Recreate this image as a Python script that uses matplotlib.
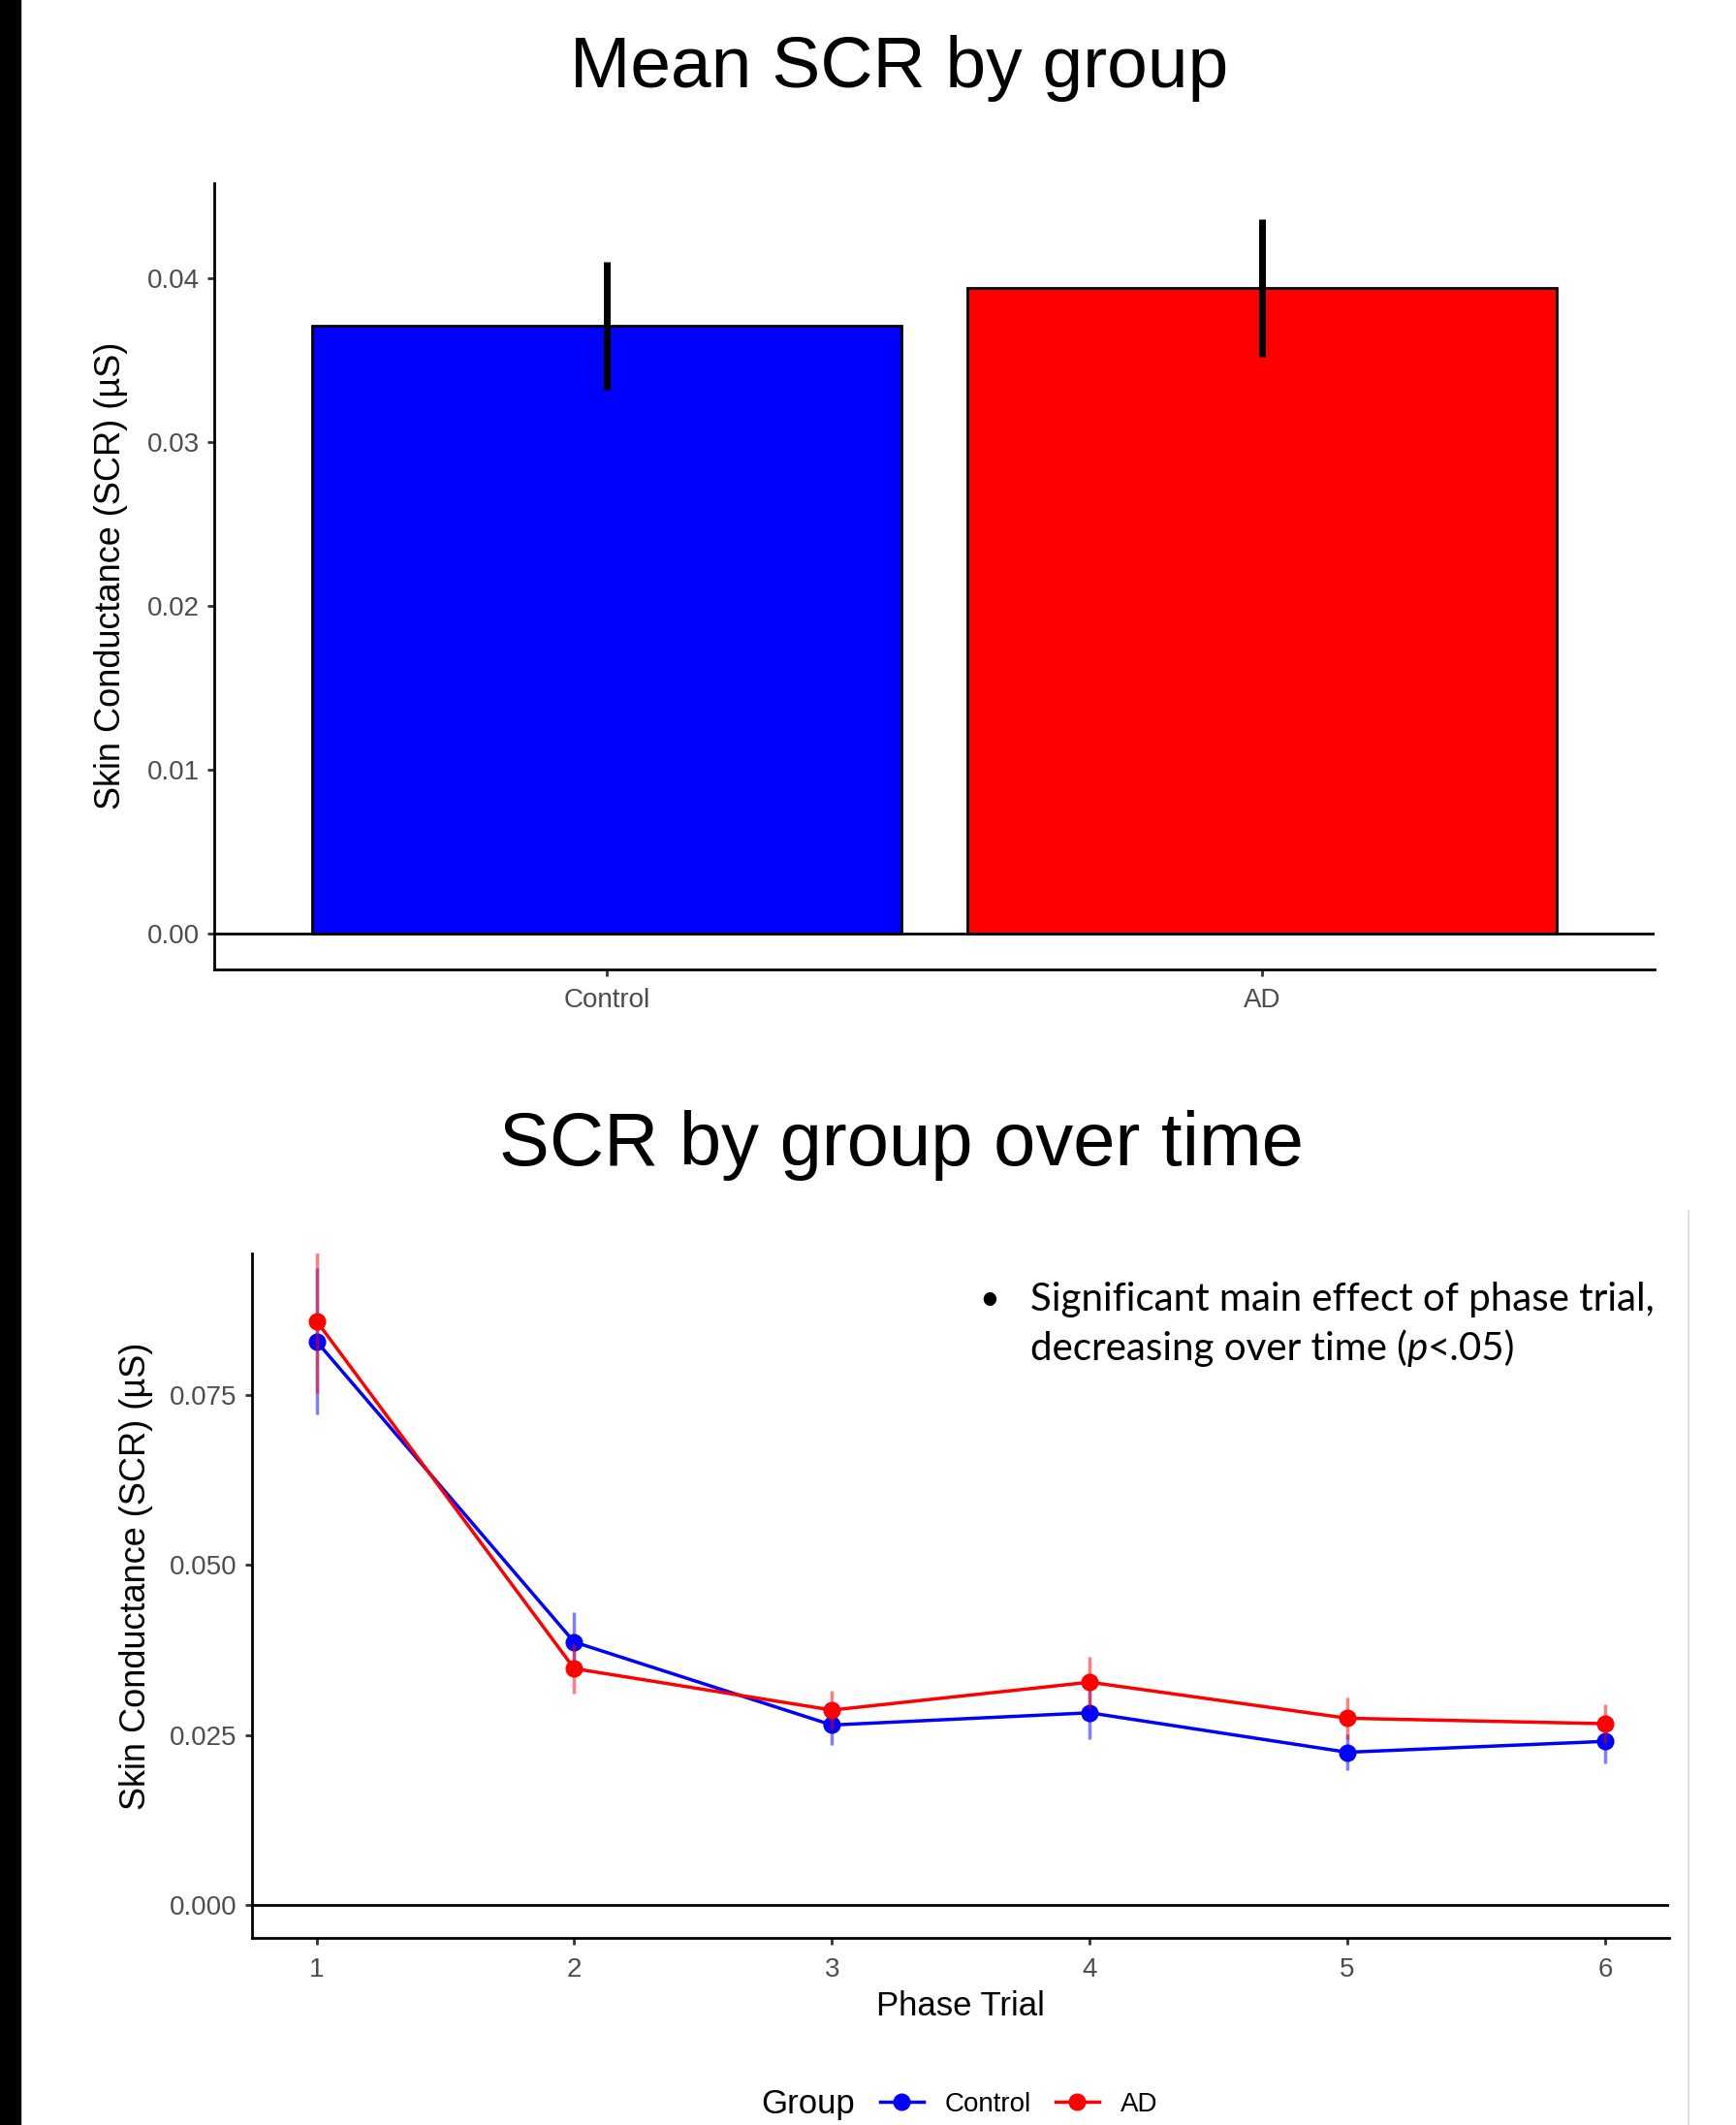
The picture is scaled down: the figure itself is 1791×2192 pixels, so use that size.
import matplotlib
matplotlib.use('Agg')
import matplotlib.pyplot as plt
from matplotlib.lines import Line2D
from matplotlib.patches import Rectangle

plt.rcParams['font.family'] = ['Liberation Sans', 'DejaVu Sans']

# data
groups = ['Control', 'AD']
scr_mean = [0.0371, 0.0394]
scr_se = [0.0039, 0.0042]
bar_colors = ['#0000FF', '#FF0000']

trials = [1, 2, 3, 4, 5, 6]
control_mean = [0.0829, 0.0387, 0.0265, 0.0283, 0.0225, 0.0241]
control_se = [0.0108, 0.0044, 0.0029, 0.0039, 0.0026, 0.0033]
ad_mean = [0.0859, 0.0348, 0.0287, 0.0328, 0.0275, 0.0267]
ad_se = [0.0106, 0.0037, 0.0029, 0.0038, 0.0031, 0.0029]

top_ticks = [0.00, 0.01, 0.02, 0.03, 0.04]
bottom_ticks = [0.000, 0.025, 0.050, 0.075]

tick_gray = '#4D4D4D'

fig = plt.figure(figsize=(17.91, 21.92), dpi=100)

# black strip on the left edge and the grey crop line
fig.patches.append(Rectangle((0, 0), 0.0115, 1, transform=fig.transFigure, color='black', zorder=10))
fig.add_artist(Line2D([0.9725, 0.9725], [0, 0.430], transform=fig.transFigure, color='#d9d9d9', lw=1.2))


def style_axes(ax):
    for s in ['top', 'right']:
        ax.spines[s].set_visible(False)
    for s in ['left', 'bottom']:
        ax.spines[s].set_linewidth(2)
        ax.spines[s].set_color('black')
    ax.tick_params(axis='both', direction='out', length=5, width=2, color='#333333',
                   labelsize=20, labelcolor=tick_gray, pad=6)
    ax.tick_params(axis='x', pad=9)


# ---- top: mean SCR by group
ax1 = fig.add_axes([0.1233, 0.544, 0.8299, 0.3699])
x = list(range(1, len(groups) + 1))
ax1.bar(x, scr_mean, width=0.9, color=bar_colors, edgecolor='black', linewidth=2, zorder=2)
ax1.errorbar(x, scr_mean, yerr=scr_se, fmt='none', ecolor='black', elinewidth=5, capsize=0, zorder=3)
ax1.axhline(0, color='black', lw=2, zorder=4)
ax1.set_xlim(0.4, 2.6)
ax1.set_ylim(-0.00215, 0.0458)
ax1.set_xticks(x)
ax1.set_xticklabels(groups)
ax1.set_yticks(top_ticks)
ax1.set_yticklabels(['%.2f' % t for t in top_ticks])
ax1.set_ylabel('Skin Conductance (SCR) (µS)', fontsize=26)
ax1.yaxis.set_label_coords(-0.060, 0.5)
style_axes(ax1)
fig.text(0.518, 0.968, 'Mean SCR by group', fontsize=54, ha='center', va='center')

# ---- bottom: SCR over time
ax2 = fig.add_axes([0.1452, 0.088, 0.8165, 0.3221])
ax2.errorbar(trials, control_mean, yerr=control_se, fmt='none', ecolor='#0000FF', alpha=0.5,
             elinewidth=2.5, capsize=0, zorder=2)
ax2.plot(trials, control_mean, color='#0000FF', lw=2.5, marker='o', ms=12, zorder=3, label='Control')
ax2.errorbar(trials, ad_mean, yerr=ad_se, fmt='none', ecolor='#FF0000', alpha=0.5,
             elinewidth=2.5, capsize=0, zorder=4)
ax2.plot(trials, ad_mean, color='#FF0000', lw=2.5, marker='o', ms=12, zorder=5, label='AD')
ax2.axhline(0, color='black', lw=2, zorder=1)
ax2.set_xlim(0.75, 6.25)
ax2.set_ylim(-0.0048, 0.0958)
ax2.set_xticks(trials)
ax2.set_yticks(bottom_ticks)
ax2.set_yticklabels(['%.3f' % t for t in bottom_ticks])
ax2.set_xlabel('Phase Trial', fontsize=25)
ax2.xaxis.set_label_coords(0.5, -0.077)
ax2.set_ylabel('Skin Conductance (SCR) (µS)', fontsize=26)
ax2.yaxis.set_label_coords(-0.070, 0.529)
style_axes(ax2)
fig.text(0.519, 0.4611, 'SCR by group over time', fontsize=56, ha='center', va='center')

# annotation
y1, y2 = 0.3884, 0.3654
fig.text(0.5699, y1, '•', fontsize=26, ha='center', va='center', family='Lato')
fig.text(0.5933, y1, 'Significant main effect of phase trial,', fontsize=29,
         ha='left', va='center', family='Lato')
t = fig.text(0.5933, y2, 'decreasing over time (', fontsize=29, ha='left', va='center', family='Lato')
fig.canvas.draw()
x_end = t.get_window_extent().x1 / fig.bbox.width
t2 = fig.text(x_end, y2, 'p', fontsize=29, ha='left', va='center', family='Lato', style='italic')
fig.canvas.draw()
x_end = t2.get_window_extent().x1 / fig.bbox.width
fig.text(x_end, y2, '<.05)', fontsize=29, ha='left', va='center', family='Lato')

# legend at the bottom
fig.text(0.4655, 0.0096, 'Group', fontsize=25, ha='center', va='center')
handles, labels = ax2.get_legend_handles_labels()
fig.legend(handles, labels, loc='center', bbox_to_anchor=(0.587, 0.0096), ncol=2, frameon=False,
           fontsize=20, handlelength=1.6, handletextpad=0.8, columnspacing=0.9)

fig.savefig('out.png', dpi=100)
